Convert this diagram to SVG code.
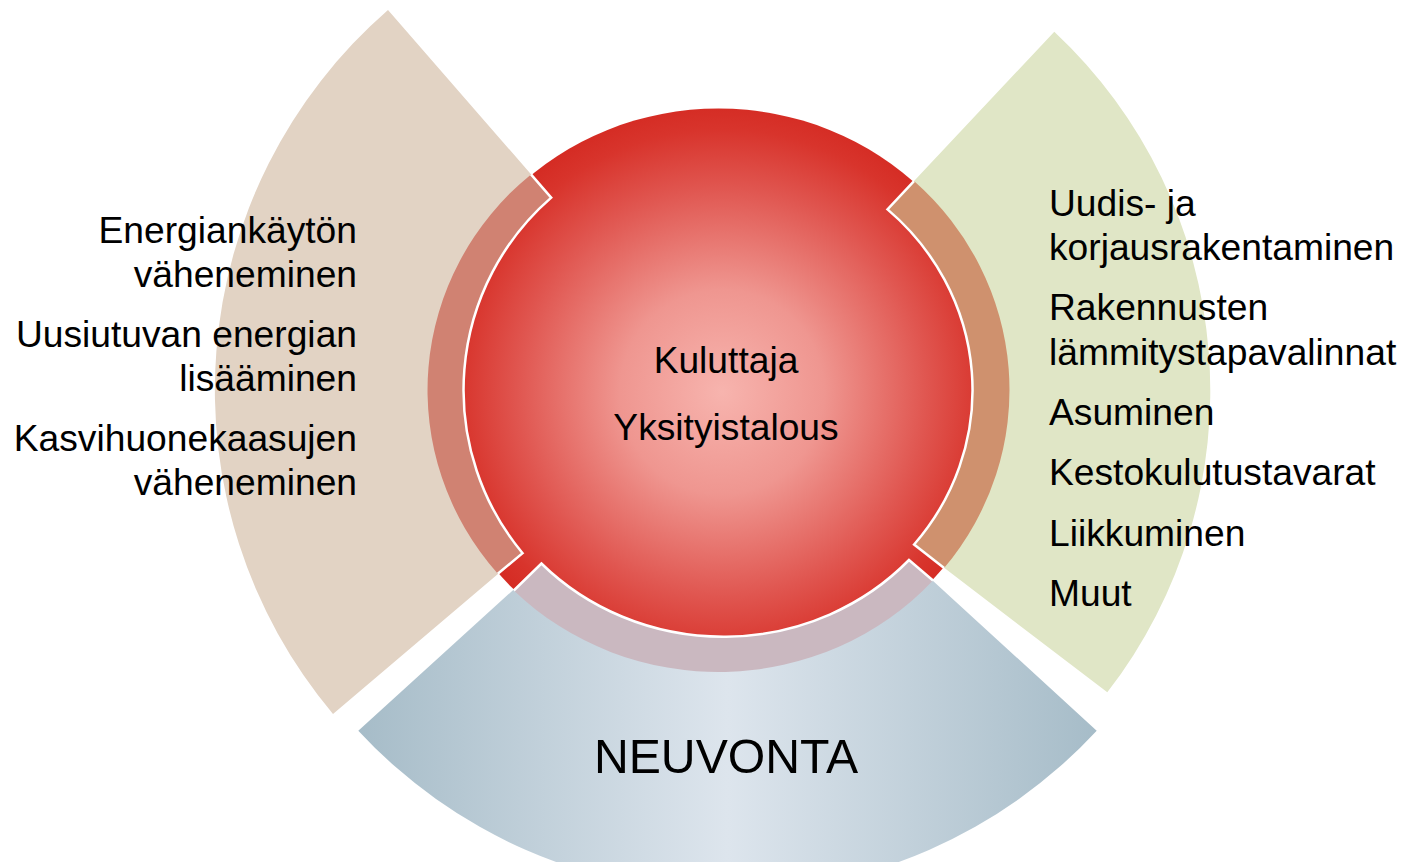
<svg xmlns="http://www.w3.org/2000/svg" width="1404" height="862" viewBox="0 0 1404 862">
<defs>
<radialGradient id="gRed" gradientUnits="userSpaceOnUse" cx="722" cy="392" r="292">
<stop offset="0" stop-color="#f7b4ae"/>
<stop offset="0.35" stop-color="#ef9690"/>
<stop offset="0.7" stop-color="#e05650"/>
<stop offset="0.9" stop-color="#d8342c"/>
<stop offset="1" stop-color="#d42a22"/>
</radialGradient>
<linearGradient id="gBlue" gradientUnits="userSpaceOnUse" x1="358" y1="0" x2="1097" y2="0">
<stop offset="0" stop-color="#a6bcc8"/>
<stop offset="0.5" stop-color="#dde5ed"/>
<stop offset="1" stop-color="#a6bcc8"/>
</linearGradient>
<style>
.t{font-family:"Liberation Sans",Arial,sans-serif;font-size:37.2px;fill:#000}
.wl{fill:none;stroke:#fff;stroke-width:2.5;stroke-linejoin:miter}
</style>
</defs>
<g id="core">
<ellipse cx="718.5" cy="390" rx="290" ry="281.5" fill="url(#gRed)"/>
</g>
<g id="sector-left">
<path d="M388,10 A503.5,503.5 0 0 0 333,714 L511.1,562.8 A270,270 0 0 1 541.4,186.2 Z" fill="#e2d3c4"/>
<path d="M531,174.4 A291,282 0 0 0 497.8,573.8 L522.6,553.2 A255,255 0 0 1 551.2,197.6 Z" fill="#d08272"/>
<text class="t" text-anchor="end" x="357" y="243">Energiankäytön</text>
<text class="t" text-anchor="end" x="357" y="287">väheneminen</text>
<text class="t" text-anchor="end" x="357" y="347">Uusiutuvan energian</text>
<text class="t" text-anchor="end" x="357" y="391">lisääminen</text>
<text class="t" text-anchor="end" x="357" y="451">Kasvihuonekaasujen</text>
<text class="t" text-anchor="end" x="357" y="495">väheneminen</text>
</g>
<g id="sector-right">
<path d="M1054.3,31.7 A492,492 0 0 1 1107.3,692.3 L930.4,557.3 A270,270 0 0 0 903,192.8 Z" fill="#e0e6c6"/>
<path d="M914,181.1 A291,282 0 0 1 944.1,568.1 L914.1,544.5 A254,242 0 0 0 887.5,209.4 Z" fill="#cf916e"/>
<text class="t" x="1049" y="216">Uudis- ja</text>
<text class="t" x="1049" y="260">korjausrakentaminen</text>
<text class="t" x="1049" y="320">Rakennusten</text>
<text class="t" x="1049" y="365">lämmitystapavalinnat</text>
<text class="t" x="1049" y="425">Asuminen</text>
<text class="t" x="1049" y="485">Kestokulutustavarat</text>
<text class="t" x="1049" y="546">Liikkuminen</text>
<text class="t" x="1049" y="606">Muut</text>
</g>
<g id="sector-bottom">
<path d="M358.3,730.7 A503,503 0 0 0 1096.7,730.7 L916.7,565.9 A265,265 0 0 1 529.2,575.4 Z" fill="url(#gBlue)"/>
<path d="M513.8,590.5 A291,282 0 0 0 933,580.5 L909,560 A254,242 0 0 1 541.4,563.5 Z" fill="#cab8c0"/>
<text class="t" text-anchor="middle" x="726" y="773" style="font-size:48.2px">NEUVONTA</text>
</g>
<g id="connectors">
<path class="wl" d="M531,174.4 L551.2,197.6 A255,255 0 0 0 522.6,553.2 L497.8,573.8"/>
<path class="wl" d="M914,181.1 L887.5,209.4 A254,242 0 0 1 914.1,544.5 L944.1,568.1"/>
<path class="wl" d="M513.8,590.5 L541.4,563.5 A254,242 0 0 0 909,560 L933,580.5"/>
</g>
<g id="center-text">
<text class="t" text-anchor="middle" x="726" y="373">Kuluttaja</text>
<text class="t" text-anchor="middle" x="726" y="440">Yksityistalous</text>
</g>
</svg>
